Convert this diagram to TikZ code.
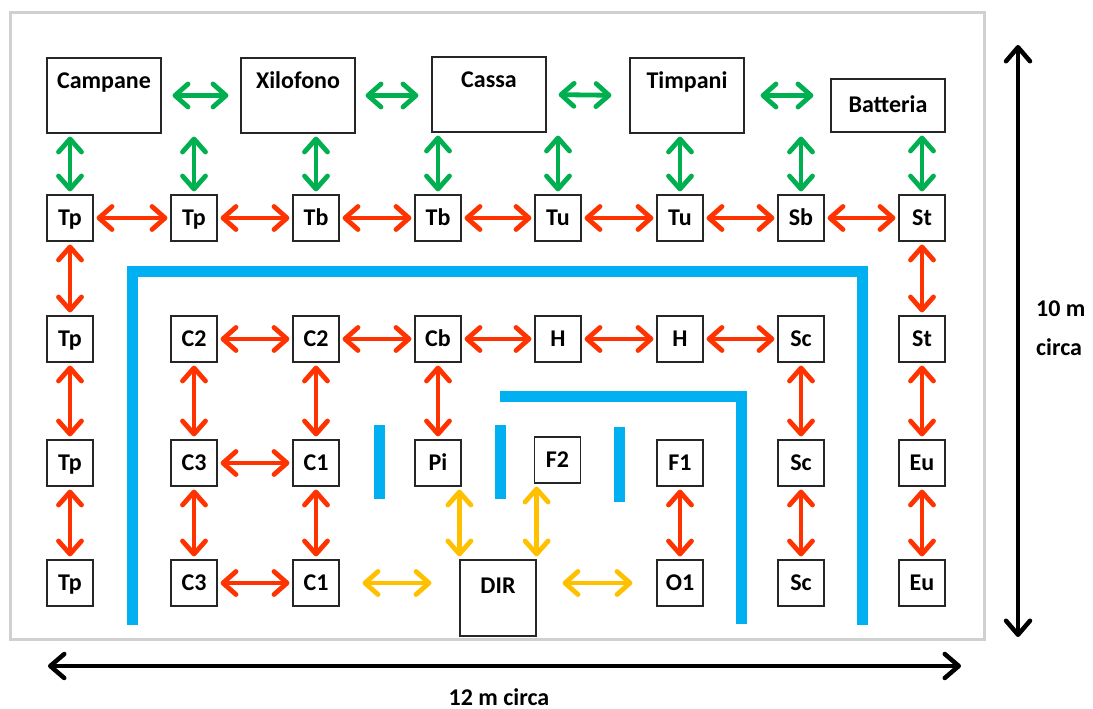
\documentclass[tikz,border=0pt]{standalone}
\usepackage{fontspec}
\setmainfont{Carlito}
\usetikzlibrary{arrows.meta}
\definecolor{cgreen}{HTML}{00B050}
\definecolor{cred}{HTML}{FF3300}
\definecolor{cyellow}{HTML}{FFC000}
\definecolor{cblue}{HTML}{00B0F0}
\definecolor{cframe}{HTML}{D0D0D0}
\begin{document}
\begin{tikzpicture}[x=1pt,y=-1pt,
  every node/.style={font=\fontsize{24}{28}\selectfont\bfseries},
  sm/.style={draw=black!85, line width=1.2pt, fill=white, minimum width=46pt, minimum height=46pt, inner sep=0pt, text height=15pt, text depth=0pt},
  big/.style={draw=black!85, line width=1.2pt, fill=white, minimum width=114pt, minimum height=75pt, inner sep=0pt},
  txt/.style={anchor=base, inner sep=0pt},
  biarr/.style={line width=4.8pt, {Straight Barb[length=13pt,width=23pt,round]}-{Straight Barb[length=13pt,width=23pt,round]}, shorten <=3pt, shorten >=3pt},
  redarr/.style={biarr, draw=cred},
  grnarr/.style={biarr, draw=cgreen},
  ylwarr/.style={biarr, draw=cyellow},
  blkarr/.style={line width=4.5pt, draw=black, {Straight Barb[length=14pt,width=24pt,round]}-{Straight Barb[length=14pt,width=24pt,round]}},
  wall/.style={line width=11pt, draw=cblue, line join=miter}
]
\useasboundingbox (0,0) rectangle (1093,709);
% frame
\draw[cframe, line width=3pt] (10,13) rectangle (984,639);

% blue walls
\draw[wall] (132,625) -- (132,271) -- (862,271) -- (862,625);
\draw[wall] (500,396) -- (741,396) -- (741,624);
\draw[wall] (379,425) -- (379,499);
\draw[wall] (500,425) -- (500,499);
\draw[wall] (619,427) -- (619,502);

% top boxes
\node[big] (campane) at (104,95.5) {};
\node[txt] at ([yshift=-31pt]campane.north) {Campane};
\node[big] (xilofono) at (298,95.5) {};
\node[txt] at ([yshift=-31pt]xilofono.north) {Xilofono};
\node[big] (cassa) at (489,94.5) {};
\node[txt] at ([yshift=-31pt]cassa.north) {Cassa};
\node[big] (timpani) at (687,95.5) {};
\node[txt] at ([yshift=-31pt]timpani.north) {Timpani};
\node[big, minimum height=53pt, text height=15pt, text depth=0pt] (batteria) at (888,105.5) {Batteria};

% row 1
\node[sm] (a1) at (70,218) {Tp};
\node[sm] (a2) at (194,218) {Tp};
\node[sm] (a3) at (316,218) {Tb};
\node[sm] (a4) at (438,218) {Tb};
\node[sm] (a5) at (558,218) {Tu};
\node[sm] (a6) at (680,218) {Tu};
\node[sm] (a7) at (801,218) {Sb};
\node[sm] (a8) at (922,218) {St};
% row 2
\node[sm] (b1) at (70,339) {Tp};
\node[sm] (b2) at (194,339) {C2};
\node[sm] (b3) at (316,339) {C2};
\node[sm] (b4) at (438,339) {Cb};
\node[sm] (b5) at (558,339) {H};
\node[sm] (b6) at (680,339) {H};
\node[sm] (b7) at (801,339) {Sc};
\node[sm] (b8) at (922,339) {St};
% row 3
\node[sm] (c1) at (70,463) {Tp};
\node[sm] (c2) at (194,463) {C3};
\node[sm] (c3) at (316,463) {C1};
\node[sm] (c4) at (438,463) {Pi};
\node[sm] (c5) at (557.5,460) {F2};
\node[sm] (c6) at (680,463) {F1};
\node[sm] (c7) at (801,463) {Sc};
\node[sm] (c8) at (922,463) {Eu};
% row 4
\node[sm] (d1) at (70,583) {Tp};
\node[sm] (d2) at (194,583) {C3};
\node[sm] (d3) at (316,583) {C1};
\node[draw=black!85, line width=1.2pt, fill=white, minimum width=76pt, minimum height=76pt, inner sep=0pt] (dir) at (498,598) {};
\node[txt] at ([yshift=-34pt]dir.north) {DIR};
\node[sm] (d6) at (680,583) {O1};
\node[sm] (d7) at (801,583) {Sc};
\node[sm] (d8) at (922,583) {Eu};

% green arrows
\draw[grnarr, shorten <=11pt, shorten >=12pt] (campane.east) -- (xilofono.west);
\draw[grnarr, shorten <=10pt, shorten >=13pt] (xilofono.east) -- (xilofono.east -| cassa.west);
\draw[grnarr, shorten <=12pt, shorten >=18pt] (cassa.east) -- (timpani.west);
\draw[grnarr, shorten <=16pt, shorten >=17pt] (timpani.east) -- (timpani.east -| batteria.west);
\draw[grnarr] (campane.south -| a1) -- (a1);
\draw[grnarr] (campane.south -| a2) -- (a2);
\draw[grnarr] (xilofono.south -| a3) -- (a3);
\draw[grnarr] (cassa.south -| a4) -- (a4);
\draw[grnarr] (cassa.south -| a5) -- (a5);
\draw[grnarr] (timpani.south -| a6) -- (a6);
\draw[grnarr] (timpani.south -| a7) -- (a7);
\draw[grnarr] (batteria.south -| a8) -- (a8);

% red arrows horizontal
\foreach \p/\q in {a1/a2,a2/a3,a3/a4,a4/a5,a5/a6,a6/a7,a7/a8,b2/b3,b3/b4,b4/b5,b5/b6,b6/b7,c2/c3,d2/d3}
  \draw[redarr] (\p) -- (\q);
% red arrows vertical
\foreach \p/\q in {a1/b1,b1/c1,c1/d1,a8/b8,b8/c8,c8/d8,b2/c2,c2/d2,b3/c3,c3/d3,b4/c4,c6/d6,b7/c7,c7/d7}
  \draw[redarr] (\p) -- (\q);

% yellow arrows
\draw[ylwarr, shorten <=23pt, shorten >=28pt] (d3.east) -- (d3.east -| dir.west);
\draw[ylwarr, shorten <=26pt, shorten >=24pt] (d6.west -| dir.east) -- (d6.west);
\draw[ylwarr] (dir.north west |- c4.south) -- (dir.north west);
\draw[ylwarr] (dir.north east |- c5.south) -- (dir.north east);

% dimension arrows
\coordinate (vtop) at (1018,45);
\coordinate (vbot) at (1018,637);
\coordinate (hl) at (48,666);
\coordinate (hr) at (961,666);
\draw[blkarr] (vtop) -- (vbot);
\draw[blkarr] (hl) -- (hr);
\node[align=left, anchor=west, inner sep=0pt, font=\fontsize{24}{39}\selectfont\bfseries] (lv) at (1036,328) {10 m\\circa};
\node[txt] (lh) at (499,705) {12 m circa};
\end{tikzpicture}
\end{document}
